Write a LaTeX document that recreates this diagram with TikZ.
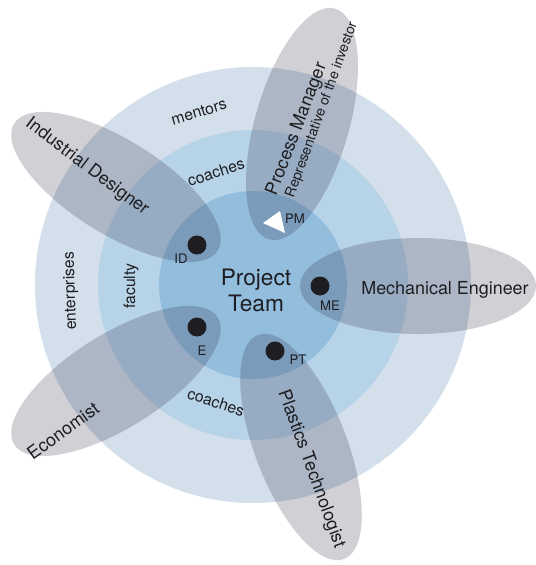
\documentclass[tikz,border=0pt]{standalone}
\usepackage{fontspec}
\setmainfont{TeX Gyre Heros}
\definecolor{ringout}{RGB}{211,223,234}
\definecolor{ringmid}{RGB}{183,211,232}
\definecolor{ringin}{RGB}{147,189,221}
\definecolor{petal}{RGB}{25,20,45}
\definecolor{ink}{RGB}{30,30,34}
\tikzset{
  petalfill/.style={fill=petal,fill opacity=0.2},
  member/.style={circle,fill=ink,minimum size=0.38cm,inner sep=0pt},
  tag/.style={font=\fontsize{7.5}{8}\selectfont,text=ink,inner sep=0pt},
  ringtext/.style={font=\fontsize{9}{10}\selectfont,text=ink,inner sep=0pt},
  role/.style={font=\fontsize{10.2}{12}\selectfont,text=ink,inner sep=0pt}
}
\begin{document}
\begin{tikzpicture}  % ------ Project team --------------
      [x=0.02cm,y=-0.02cm]
    \useasboundingbox (0,0) rectangle (536,565);
    \coordinate (O) at (253,285);

    \fill[ringout] (O) circle (218);
    \fill[ringmid] (O) circle (155);
    \fill[ringin]  (O) circle (94);

    % petals
    \fill[petalfill,rotate around={74:(302,124)}]  (302,124) ellipse [x radius=120,y radius=47];
    \fill[petalfill]                              (418,286) ellipse [x radius=118,y radius=48];
    \fill[petalfill,rotate around={-69:(301,447)}] (301,447) ellipse [x radius=120,y radius=46];
    \fill[petalfill,rotate around={32:(116,381)}]  (116,381) ellipse [x radius=120,y radius=47];
    \fill[petalfill,rotate around={-32:(116,187)}] (116,187) ellipse [x radius=120,y radius=47];

    % members
    \node[member] (ID) at (197,245) {};
    \node[member] (ME) at (320,286) {};
    \node[member] (E)  at (197,327) {};
    \node[member] (PT) at (275,351) {};
    \coordinate (P1) at (263,223);
    \coordinate (P2) at (280,211);
    \coordinate (P3) at (285,233);
    \fill[white] (P1) -- (P2) -- (P3) -- cycle;

    \node[tag] (IDt) at (181,259) {ID};
    \node[tag] (PMt) at (295,219) {PM};
    \node[tag] (MEt) at (330,306) {ME};
    \node[tag] (Et)  at (202,351) {E};
    \node[tag] (PTt) at (298,360) {PT};

    \node[align=center,text=ink,inner sep=0pt,font=\fontsize{12.9}{14.8}\selectfont]
        (team) at (256,290) {Project\\Team};

    % rings
    \node[ringtext,rotate=17]  (mentors) at (199,112) {mentors};
    \node[ringtext,rotate=18]  (coachA)  at (216,172) {coaches};
    \node[ringtext,rotate=-18] (coachB)  at (216,402) {coaches};
    \node[ringtext,rotate=90]  (faculty) at (131,286) {faculty};
    \node[ringtext,rotate=92]  (enterp)  at (71,291)  {enterprises};

    % roles
    \node[role,rotate=-37] (designer) at (87,167)  {Industrial Designer};
    \node[role,rotate=36]  (economist) at (63,431) {Economist};
    \node[role,rotate=-70] (plastics) at (311,469) {Plastics Technologist};
    \node[role]            (mechanic) at (445,290) {Mechanical Engineer};
    \node[role,rotate=69]  (process)  at (297,129) {Process Manager};
    \node[role,rotate=70,font=\fontsize{8}{9}\selectfont]
        (investor) at (322,110) {Representative of the investor};
\end{tikzpicture}
\end{document}
